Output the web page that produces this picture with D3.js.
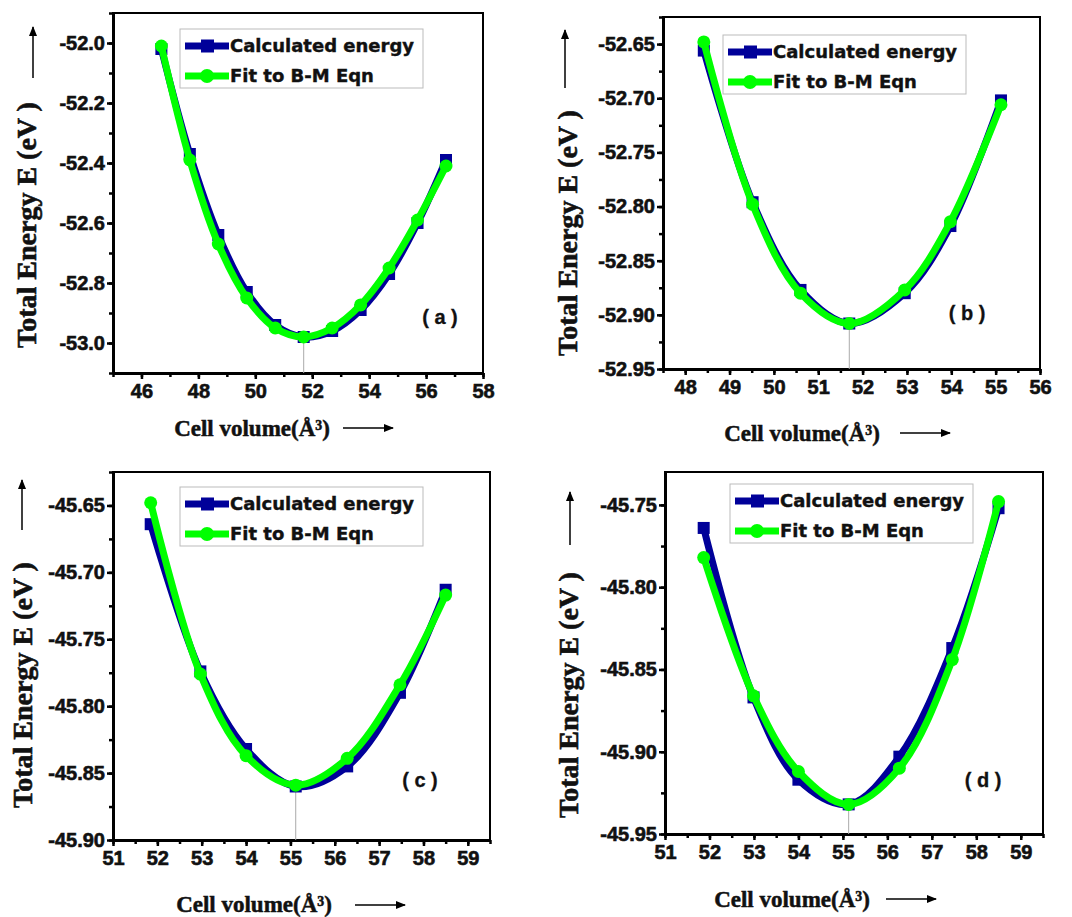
<!DOCTYPE html>
<html>
<head>
<meta charset="utf-8">
<script src="https://cdn.jsdelivr.net/npm/d3@7"></script>
<style>
  body { margin: 0; background: #fff; }
  svg { display: block; }
</style>
</head>
<body>
<div id="chart"></div>
<script>
// panel (a)
const volA = [46.7, 47.7, 48.7, 49.7, 50.7, 51.7, 52.7, 53.7, 54.7, 55.7, 56.7];
const calcA = [-52.02, -52.37, -52.64, -52.83, -52.94, -52.98, -52.96, -52.89, -52.77, -52.60, -52.39];
const fitA = [-52.01, -52.39, -52.67, -52.85, -52.95, -52.98, -52.95, -52.873, -52.75, -52.59, -52.41];

// panel (b)
const volB = [48.42, 49.52, 50.6, 51.7, 52.95, 53.98, 55.12];
const calcB = [-52.656, -52.796, -52.877, -52.908, -52.880, -52.818, -52.702];
const fitB = [-52.648, -52.798, -52.880, -52.908, -52.877, -52.814, -52.706];

// panel (c)
const volC = [51.85, 52.97, 54.0, 55.12, 56.28, 57.47, 58.5];
const calcC = [-45.664, -45.774, -45.832, -45.860, -45.845, -45.790, -45.713];
const fitC = [-45.648, -45.776, -45.837, -45.859, -45.839, -45.784, -45.717];

// panel (d)
const volD = [51.87, 52.99, 54.0, 55.13, 56.27, 57.46, 58.5];
const calcD = [-45.764, -45.867, -45.917, -45.932, -45.903, -45.837, -45.752];
const fitD = [-45.782, -45.866, -45.912, -45.932, -45.910, -45.844, -45.748];

const seriesNames = ["Calculated energy", "Fit to B-M Eqn"];
const panelLabels = ["( a )", "( b )", "( c )", "( d )"];

const xDomains = [[45, 58], [47.5, 56], [51, 59.5], [51, 59.5]];
const yDomains = [[-53.1, -51.9], [-52.95, -52.625], [-45.9, -45.625], [-45.95, -45.73]];
const xTickSteps = [2, 1, 1, 1];
const yTickSteps = [0.2, 0.05, 0.05, 0.05];
const yTickDigits = [1, 2, 2, 2];

const yTitle = "Total Energy E (eV )";
const xTitle = "Cell volume(Å³)";

const blue = "#000099";
const green = "#00ff00";

// frame boxes [left, top, right, bottom] and title/label positions
const boxes = [[113, 13, 483, 373], [663, 17, 1040, 369], [113, 472, 490, 840], [665, 472, 1043, 834]];
const legendPos = [[180, 29], [723, 35], [180, 487], [730, 484]];
const labelPos = [[440, 317], [967, 313], [420, 780], [983, 780]];
const yTitlePos = [[26, 225], [567, 233], [22, 685], [568, 695]];
const yArrowPos = [[33, 78, 27], [565, 88, 30], [22, 530, 480], [570, 545, 492]];
const xTitlePos = [[252, 428], [802, 433], [254, 904], [792, 899]];
const xArrowPos = [[343, 393, 428], [900, 950, 433], [355, 405, 905], [886, 936, 899]];

const panels = [
  { vol: volA, calc: calcA, fit: fitA },
  { vol: volB, calc: calcB, fit: fitB },
  { vol: volC, calc: calcC, fit: fitC },
  { vol: volD, calc: calcD, fit: fitD }
];

const width = 1072, height = 917;

const svg = d3.select("#chart")
  .append("svg")
  .attr("width", width)
  .attr("height", height);

svg.append("defs").append("marker")
  .attr("id", "arrow")
  .attr("viewBox", "0 0 10 10")
  .attr("refX", 9).attr("refY", 5)
  .attr("markerWidth", 10).attr("markerHeight", 10)
  .attr("markerUnits", "userSpaceOnUse")
  .attr("orient", "auto")
  .append("path")
  .attr("d", "M0,1 L10,5 L0,9 Z")
  .attr("fill", "#000");

const tickFont = "'Liberation Sans', Arial, sans-serif";
const serif = "'Liberation Serif', 'Times New Roman', serif";

// slightly heavier text, the scan is bolder than plain bold
const heavy = (sel, w) => sel
  .attr("font-weight", "bold")
  .attr("stroke", "#111")
  .attr("stroke-width", w)
  .attr("fill", "#111");

const drawPanel = (p, i) => {
  const [left, top, right, bottom] = boxes[i];

  const xScale = d3.scaleLinear().domain(xDomains[i]).range([left, right]);
  const yScale = d3.scaleLinear().domain(yDomains[i]).range([bottom, top]);

  const g = svg.append("g");

  // frame
  g.append("rect")
    .attr("x", left).attr("y", top)
    .attr("width", right - left).attr("height", bottom - top)
    .attr("fill", "none")
    .attr("stroke", "#000")
    .attr("stroke-width", 2);

  const xs = xTickSteps[i], ys = yTickSteps[i];
  const xMajor = d3.range(Math.ceil(xDomains[i][0] / xs) * xs, xDomains[i][1] + 1e-9, xs);
  const xMinor = d3.range(Math.ceil(xDomains[i][0] / (xs / 2)) * (xs / 2), xDomains[i][1] + 1e-9, xs / 2);
  const yMajor = d3.range(Math.ceil(yDomains[i][0] / ys - 1e-6) * ys, yDomains[i][1] + 1e-9, ys);
  const yMinor = d3.range(Math.ceil(yDomains[i][0] / (ys / 2) - 1e-6) * (ys / 2), yDomains[i][1] + 1e-9, ys / 2);

  const xAxis = d3.axisBottom(xScale)
    .tickValues(xMajor)
    .tickFormat(d => d3.format("d")(Math.round(d)))
    .tickSize(6)
    .tickPadding(5)
    .tickSizeOuter(0);

  const yAxis = d3.axisLeft(yScale)
    .tickValues(yMajor)
    .tickFormat(d => d.toFixed(yTickDigits[i]))
    .tickSize(6)
    .tickPadding(2)
    .tickSizeOuter(0);

  const xg = g.append("g")
    .attr("transform", `translate(0, ${bottom})`)
    .call(xAxis);

  const yg = g.append("g")
    .attr("transform", `translate(${left}, 0)`)
    .call(yAxis);

  g.append("g")
    .attr("transform", `translate(0, ${bottom})`)
    .call(d3.axisBottom(xScale).tickValues(xMinor).tickFormat("").tickSize(4).tickSizeOuter(0))
    .call(a => a.select(".domain").remove());

  g.append("g")
    .attr("transform", `translate(${left}, 0)`)
    .call(d3.axisLeft(yScale).tickValues(yMinor).tickFormat("").tickSize(4).tickSizeOuter(0))
    .call(a => a.select(".domain").remove());

  [xg, yg].forEach(a => {
    a.select(".domain").attr("stroke-width", 3);
    a.selectAll(".tick text")
      .attr("font-family", tickFont)
      .attr("font-size", 20)
      .call(heavy, 0.6);
  });
  g.selectAll(".tick line").attr("stroke-width", 2.5);

  // drop line at the minimum
  const minIdx = d3.minIndex(p.fit);
  g.append("line")
    .attr("x1", xScale(p.vol[minIdx])).attr("x2", xScale(p.vol[minIdx]))
    .attr("y1", yScale(p.fit[minIdx])).attr("y2", bottom)
    .attr("stroke", "#aaa")
    .attr("stroke-width", 1);

  const line = (vals) => d3.line()
    .x((d, j) => xScale(p.vol[j]))
    .y(d => yScale(d))
    .curve(d3.curveCatmullRom)(vals);

  g.append("path")
    .attr("d", line(p.calc))
    .attr("fill", "none")
    .attr("stroke", blue)
    .attr("stroke-width", 7)
    .attr("stroke-linejoin", "round");

  g.selectAll("rect.calc")
    .data(p.calc)
    .join("rect")
    .attr("class", "calc")
    .attr("x", (d, j) => xScale(p.vol[j]) - 6)
    .attr("y", d => yScale(d) - 6)
    .attr("width", 12).attr("height", 12)
    .attr("fill", blue);

  g.append("path")
    .attr("d", line(p.fit))
    .attr("fill", "none")
    .attr("stroke", green)
    .attr("stroke-width", 7)
    .attr("stroke-linejoin", "round");

  g.selectAll("circle.fit")
    .data(p.fit)
    .join("circle")
    .attr("class", "fit")
    .attr("cx", (d, j) => xScale(p.vol[j]))
    .attr("cy", d => yScale(d))
    .attr("r", 6.5)
    .attr("fill", green);

  // legend
  const [lx, ly] = legendPos[i];
  const lg = g.append("g").attr("transform", `translate(${lx}, ${ly})`);
  lg.append("rect")
    .attr("width", 243).attr("height", 59)
    .attr("fill", "#fff")
    .attr("stroke", "#bbb")
    .attr("stroke-width", 1);

  [blue, green].forEach((c, k) => {
    const cy = 17 + k * 30;
    lg.append("line")
      .attr("x1", 5).attr("x2", 49)
      .attr("y1", cy).attr("y2", cy)
      .attr("stroke", c)
      .attr("stroke-width", 7);
    if (k === 0) {
      lg.append("rect")
        .attr("x", 21).attr("y", cy - 6.5)
        .attr("width", 13).attr("height", 13)
        .attr("fill", c);
    } else {
      lg.append("circle")
        .attr("cx", 27).attr("cy", cy)
        .attr("r", 7)
        .attr("fill", c);
    }
    lg.append("text")
      .attr("x", 50).attr("y", cy)
      .attr("dy", "0.35em")
      .attr("font-family", "'DejaVu Sans', Verdana, sans-serif")
      .attr("font-size", 18)
      .call(heavy, 0.4)
      .text(seriesNames[k]);
  });

  // panel label
  g.append("text")
    .attr("x", labelPos[i][0]).attr("y", labelPos[i][1])
    .attr("dy", "0.35em")
    .attr("text-anchor", "middle")
    .attr("font-family", tickFont)
    .attr("font-size", 20)
    .attr("xml:space", "preserve")
    .call(heavy, 0.3)
    .text(panelLabels[i]);

  // y title + arrow
  g.append("text")
    .attr("transform", `translate(${yTitlePos[i][0]}, ${yTitlePos[i][1]}) rotate(-90)`)
    .attr("dy", "0.35em")
    .attr("text-anchor", "middle")
    .attr("font-family", serif)
    .attr("font-size", 28)
    .call(heavy, 0.6)
    .text(yTitle);

  g.append("line")
    .attr("x1", yArrowPos[i][0]).attr("x2", yArrowPos[i][0])
    .attr("y1", yArrowPos[i][1]).attr("y2", yArrowPos[i][2])
    .attr("stroke", "#000")
    .attr("stroke-width", 1.5)
    .attr("marker-end", "url(#arrow)");

  // x title + arrow
  g.append("text")
    .attr("x", xTitlePos[i][0]).attr("y", xTitlePos[i][1])
    .attr("dy", "0.35em")
    .attr("text-anchor", "middle")
    .attr("font-family", serif)
    .attr("font-size", 23)
    .call(heavy, 0.5)
    .text(xTitle);

  g.append("line")
    .attr("x1", xArrowPos[i][0]).attr("x2", xArrowPos[i][1])
    .attr("y1", xArrowPos[i][2]).attr("y2", xArrowPos[i][2])
    .attr("stroke", "#000")
    .attr("stroke-width", 1.5)
    .attr("marker-end", "url(#arrow)");
};

panels.forEach(drawPanel);
</script>
</body>
</html>
